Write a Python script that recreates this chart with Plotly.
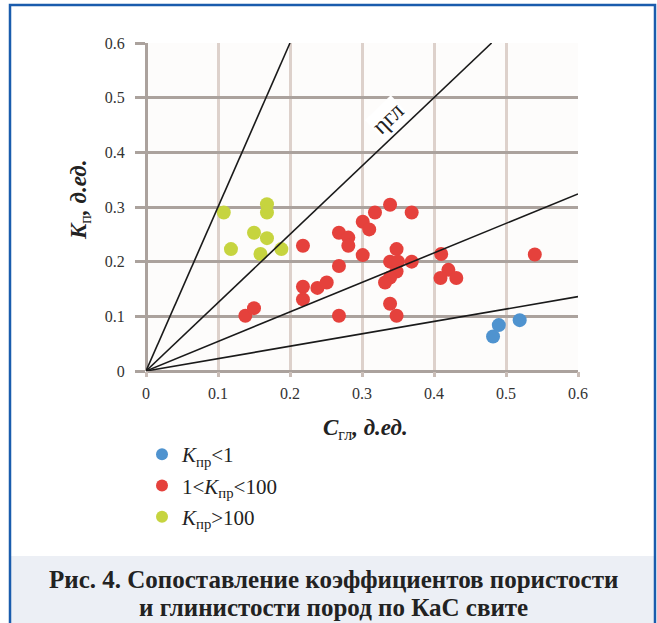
import plotly.graph_objects as go

# ---- data ----
blue_x = [0.482, 0.490, 0.519]
blue_y = [0.063, 0.084, 0.093]

red_x = [0.138, 0.150, 0.218, 0.218, 0.218, 0.238, 0.251, 0.268, 0.268, 0.268,
         0.281, 0.281, 0.301, 0.301, 0.310, 0.318, 0.339, 0.369, 0.348, 0.339,
         0.350, 0.369, 0.348, 0.339, 0.332, 0.339, 0.348, 0.410, 0.420, 0.409,
         0.431, 0.540]
red_y = [0.101, 0.115, 0.229, 0.154, 0.131, 0.152, 0.162, 0.253, 0.192, 0.101,
         0.244, 0.229, 0.273, 0.212, 0.259, 0.290, 0.304, 0.290, 0.223, 0.200,
         0.200, 0.200, 0.182, 0.171, 0.162, 0.123, 0.101, 0.214, 0.185, 0.170,
         0.170, 0.213]

green_x = [0.108, 0.168, 0.168, 0.150, 0.168, 0.118, 0.159, 0.188]
green_y = [0.290, 0.305, 0.290, 0.253, 0.243, 0.223, 0.214, 0.223]

line_end_x = [0.2, 0.48, 0.6, 0.6]
line_end_y = [0.6, 0.6, 0.324, 0.136]

tick_vals = [0, 0.1, 0.2, 0.3, 0.4, 0.5, 0.6]
tick_text = ["0", "0.1", "0.2", "0.3", "0.4", "0.5", "0.6"]

series_names = ["<i>K</i><sub>пр</sub>&lt;1",
                "1&lt;<i>K</i><sub>пр</sub>&lt;100",
                "<i>K</i><sub>пр</sub>&gt;100"]
series_colors = ["#4f93cf", "#e5413c", "#c6d43f"]

SERIF = "Liberation Serif, DejaVu Serif, serif"

fig = go.Figure()
for i, (xs, ys) in enumerate([(blue_x, blue_y), (red_x, red_y), (green_x, green_y)]):
    fig.add_trace(go.Scatter(
        x=xs, y=ys, mode="markers", name=series_names[i],
        legendgroup=f"g{i}",
        marker=dict(size=14, color=series_colors[i], line=dict(width=0)),
    ))

for ex, ey in zip(line_end_x, line_end_y):
    fig.add_trace(go.Scatter(
        x=[0, ex], y=[0, ey], mode="lines", showlegend=False,
        line=dict(color="#1a1a1a", width=1.6), hoverinfo="skip",
    ))

W, H = 657, 623
L, R, T, B = 146, 79, 43, 252
pw, ph = W - L - R, H - T - B


def px_x(p):
    return (p - L) / pw


def px_y(p):
    return (H - B - p) / ph


fig.update_layout(
    width=W, height=H, autosize=False,
    margin=dict(l=L, r=R, t=T, b=B, pad=0),
    paper_bgcolor="white", plot_bgcolor="#fdfcfb",
    font=dict(family=SERIF, size=15, color="#333333"),
    showlegend=True,
    legend=dict(
        x=px_x(142), y=px_y(434), xanchor="left", yanchor="top",
        orientation="v", bgcolor="rgba(0,0,0,0)", tracegroupgap=1,
        font=dict(family=SERIF, size=21, color="#222222"),
        itemsizing="constant",
    ),
    xaxis=dict(
        range=[0, 0.6], tickvals=tick_vals, ticktext=tick_text,
        showgrid=True, gridcolor="#ddd1cb", gridwidth=3,
        zeroline=True, zerolinecolor="#aba29d", zerolinewidth=3,
        showline=False, ticks="outside", ticklen=5, tickwidth=3,
        tickcolor="#c9bdb7", tickfont=dict(family=SERIF, size=16, color="#333333"),
        ticklabelstandoff=3, fixedrange=True,
    ),
    yaxis=dict(
        range=[0, 0.6], tickvals=tick_vals, ticktext=tick_text,
        showgrid=True, gridcolor="#aba29d", gridwidth=3,
        zeroline=True, zerolinecolor="#aba29d", zerolinewidth=3,
        showline=False, ticks="outside", ticklen=10, tickwidth=3,
        tickcolor="#aba29d", tickfont=dict(family=SERIF, size=16, color="#333333"),
        ticklabelstandoff=7, fixedrange=True,
    ),
)

# caption band and frame
fig.add_shape(type="rect", xref="paper", yref="paper",
              x0=px_x(11), x1=px_x(655), y0=px_y(640), y1=px_y(556),
              fillcolor="#eceff5", line=dict(width=0), layer="below")
fig.add_shape(type="rect", xref="paper", yref="paper",
              x0=px_x(10), x1=px_x(655), y0=px_y(650), y1=px_y(5),
              fillcolor="rgba(0,0,0,0)", line=dict(color="#1a5cad", width=2.5),
              layer="above")

# line label
fig.add_annotation(x=0.336, y=0.463, xref="x", yref="y", text="ηгл",
                   textangle=-43.5, showarrow=False, bgcolor="white",
                   xanchor="center", yanchor="middle",
                   font=dict(family=SERIF, size=24, color="#222222"))

# axis titles
fig.add_annotation(x=px_x(365), y=px_y(429), xref="paper", yref="paper",
                   xanchor="center", yanchor="middle",
                   text="<b><i>C</i></b><sub>гл</sub><b><i>, д.ед.</i></b>",
                   showarrow=False, font=dict(family=SERIF, size=23, color="#222222"))
fig.add_annotation(x=px_x(80), y=px_y(200), xref="paper", yref="paper",
                   xanchor="center", yanchor="middle",
                   text="<b><i>K</i></b><sub>п</sub><b><i>, д.ед.</i></b>",
                   textangle=-90, showarrow=False,
                   font=dict(family=SERIF, size=23, color="#222222"))

# caption
fig.add_annotation(x=px_x(333), y=px_y(579), xref="paper", yref="paper",
                   xanchor="center", yanchor="middle",
                   text="<b>Рис. 4. Сопоставление коэффициентов пористости</b>",
                   showarrow=False, font=dict(family=SERIF, size=25, color="#222222"))
fig.add_annotation(x=px_x(333), y=px_y(607), xref="paper", yref="paper",
                   xanchor="center", yanchor="middle",
                   text="<b>и глинистости пород по КаС свите</b>",
                   showarrow=False, font=dict(family=SERIF, size=25, color="#222222"))

fig.write_html(
    "out.html",
    config={"displayModeBar": False},
    post_script="document.body.style.margin='0';document.body.style.overflow='hidden';",
)
